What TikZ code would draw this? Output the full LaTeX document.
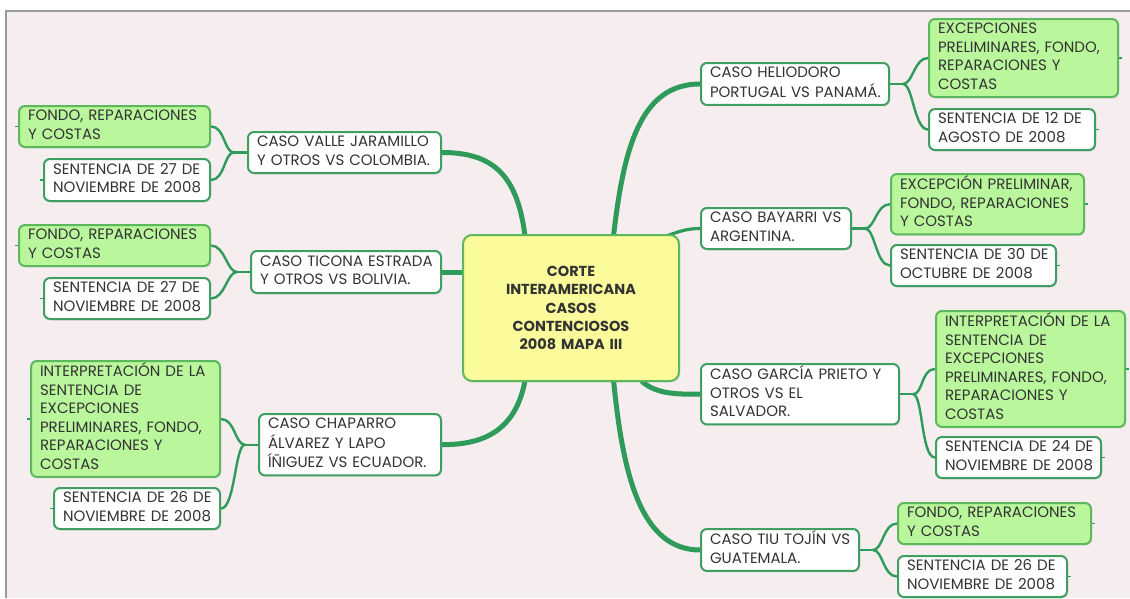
\documentclass[tikz,border=0pt]{standalone}
\usepackage{fontspec}
\setmainfont{Poppins}
\usetikzlibrary{calc,shadows}
\pgfdeclarelayer{back}
\pgfdeclarelayer{bg}
\pgfsetlayers{back,bg,main}
\definecolor{pinkbg}{HTML}{F5EDEE}
\definecolor{framegrey}{HTML}{9A9A9A}
\definecolor{branch}{HTML}{2E9B5A}
\definecolor{wborder}{HTML}{3F9F62}
\definecolor{gborder}{HTML}{5CB85C}
\definecolor{gfill}{HTML}{B9F69C}
\definecolor{yfill}{HTML}{FBFB9C}
\definecolor{txt}{HTML}{333333}
\newcommand\lns[1]{\begin{tabular}{@{}l@{}}#1\end{tabular}}
\tikzset{
  x=1pt, y=-1pt,
  box/.style={draw=wborder, line width=2pt, rounded corners=6pt, anchor=north west,
    align=left, inner xsep=9pt, inner ysep=2pt, text=txt,
    font=\fontsize{15}{18.5}\selectfont,
    drop shadow={opacity=0.15, shadow xshift=1.2pt, shadow yshift=-1.5pt}},
  caso/.style={box, fill=white},
  hoja/.style={box, fill=gfill, draw=gborder},
  fecha/.style={box, fill=white},
  central/.style={draw=gborder, line width=2pt, fill=yfill, rounded corners=9pt, anchor=north west,
    align=center, text=txt, font=\fontsize{14.5}{18.3}\selectfont\bfseries,
    minimum width=216pt, minimum height=146pt, text width=196pt, inner xsep=10pt,
    drop shadow={opacity=0.15, shadow xshift=1.2pt, shadow yshift=-1.5pt}},
  trunk/.style={draw=branch, line width=5pt, line cap=round},
  twig/.style={draw=branch, line width=2.4pt, line cap=round},
  stub/.style={draw=branch, line width=1.5pt}
}
\begin{document}
\begin{tikzpicture}
\useasboundingbox (0,0) rectangle (1130,598);
\begin{pgfonlayer}{back}
\fill[white] (0,0) rectangle (1130,598);
\fill[pinkbg] (5,10) rectangle (1130,598);
\draw[framegrey, line width=2.5pt] (6,598) -- (6,11) -- (1130,11);
\end{pgfonlayer}

% central
\node[central] (c) at (462,234) {CORTE\\INTERAMERICANA\\CASOS\\CONTENCIOSOS\\2008 MAPA III};

% left cases
\node[caso, text width=175pt, minimum height=41pt] (L1) at (247,131) {\lns{CASO VALLE JARAMILLO\\Y OTROS VS COLOMBIA.}};
\node[hoja, text width=173pt, minimum height=40pt] (L1a) at (18,105) {\lns{FONDO, REPARACIONES\\Y COSTAS}};
\node[fecha, text width=148pt, minimum height=42pt] (L1b) at (43,158) {\lns{SENTENCIA DE 27 DE\\NOVIEMBRE DE 2008}};

\node[caso, text width=172pt, minimum height=42pt] (L2) at (250,250) {\lns{CASO TICONA ESTRADA\\Y OTROS VS BOLIVIA.}};
\node[hoja, text width=173pt, minimum height=41pt] (L2a) at (18,224) {\lns{FONDO, REPARACIONES\\Y COSTAS}};
\node[fecha, text width=148pt, minimum height=41pt] (L2b) at (43,277) {\lns{SENTENCIA DE 27 DE\\NOVIEMBRE DE 2008}};

\node[caso, text width=164pt, minimum height=60pt] (L3) at (258,413) {\lns{CASO CHAPARRO\\ÁLVAREZ Y LAPO\\ÍÑIGUEZ VS ECUADOR.}};
\node[hoja, text width=171pt, minimum height=113pt] (L3a) at (30,360) {\lns{INTERPRETACIÓN DE LA\\SENTENCIA DE\\EXCEPCIONES\\PRELIMINARES, FONDO,\\REPARACIONES Y\\COSTAS}};
\node[fecha, text width=148pt, minimum height=40pt] (L3b) at (53,487) {\lns{SENTENCIA DE 26 DE\\NOVIEMBRE DE 2008}};

% right cases
\node[caso, text width=170pt, minimum height=41pt] (R1) at (700,62) {\lns{CASO HELIODORO\\PORTUGAL VS PANAMÁ.}};
\node[hoja, text width=171pt, minimum height=75pt] (R1a) at (928,18) {\lns{EXCEPCIONES\\PRELIMINARES, FONDO,\\REPARACIONES Y\\COSTAS}};
\node[fecha, text width=148pt, minimum height=40pt] (R1b) at (928,108) {\lns{SENTENCIA DE 12 DE\\AGOSTO DE 2008}};

\node[caso, text width=132pt, minimum height=40pt] (R2) at (700,207) {\lns{CASO BAYARRI VS\\ARGENTINA.}};
\node[hoja, text width=175pt, minimum height=59pt] (R2a) at (890,173) {\lns{EXCEPCIÓN PRELIMINAR,\\FONDO, REPARACIONES\\Y COSTAS}};
\node[fecha, text width=147pt, minimum height=41pt] (R2b) at (890,244) {\lns{SENTENCIA DE 30 DE\\OCTUBRE DE 2008}};

\node[caso, text width=180pt, minimum height=60pt] (R3) at (700,363) {\lns{CASO GARCÍA PRIETO Y\\OTROS VS EL\\SALVADOR.}};
\node[hoja, text width=171pt, minimum height=113pt] (R3a) at (935,310) {\lns{INTERPRETACIÓN DE LA\\SENTENCIA DE\\EXCEPCIONES\\PRELIMINARES, FONDO,\\REPARACIONES Y\\COSTAS}};
\node[fecha, text width=147pt, minimum height=41pt] (R3b) at (935,436) {\lns{SENTENCIA DE 24 DE\\NOVIEMBRE DE 2008}};

\node[caso, text width=140pt, minimum height=41pt] (R4) at (700,528) {\lns{CASO TIU TOJÍN VS\\GUATEMALA.}};
\node[hoja, text width=175pt, minimum height=41pt] (R4a) at (897,502) {\lns{FONDO, REPARACIONES\\Y COSTAS}};
\node[fecha, text width=151pt, minimum height=40pt] (R4b) at (897,555) {\lns{SENTENCIA DE 26 DE\\NOVIEMBRE DE 2008}};

\begin{pgfonlayer}{bg}
  % trunks
  \draw[trunk] (c.60) .. controls +(10,-85) and +(-60,0) .. (R1.west);
  \draw[trunk, line width=3.2pt] ($(c.north east)+(-14,2)$) .. controls +(12,-4) and +(-14,0) .. (R2.west);
  \draw[trunk] (c.-46) .. controls +(15,12) and +(-25,0) .. (R3.west);
  \draw[trunk] (c.-60) .. controls +(9,90) and +(-60,0) .. (R4.west);
  \draw[trunk] (c.122) .. controls +(-8,-60) and +(50,0) .. (L1.east);
  \draw[trunk] ($(c.west|-L2.east)+(6,0)$) -- (L2.east);
  \draw[trunk] (c.-122) .. controls +(-10,50) and +(40,0) .. (L3.east);
  % twigs left
  \foreach \n/\j in {L1/jL1,L2/jL2,L3/jL3}{
    \draw[twig] (\n.west) -- ++(-13,0) coordinate (\j);
    \draw[twig] (\j) .. controls +(-10,0) and +(14,0) .. (\n a.east);
    \draw[twig] (\j) .. controls +(-10,0) and +(14,0) .. (\n b.east);
    \draw[stub] (\n a.west) -- ++(-3,0);
    \draw[stub] (\n b.west) -- ++(-3,0);
  }
  \foreach \n/\j in {R1/jR1,R2/jR2,R3/jR3,R4/jR4}{
    \draw[twig] (\n.east) -- ++(13,0) coordinate (\j);
    \draw[twig] (\j) .. controls +(10,0) and +(-14,0) .. (\n a.west);
    \draw[twig] (\j) .. controls +(10,0) and +(-14,0) .. (\n b.west);
    \draw[stub] (\n a.east) -- ++(3,0);
    \draw[stub] (\n b.east) -- ++(3,0);
  }
\end{pgfonlayer}
\end{tikzpicture}
\end{document}
